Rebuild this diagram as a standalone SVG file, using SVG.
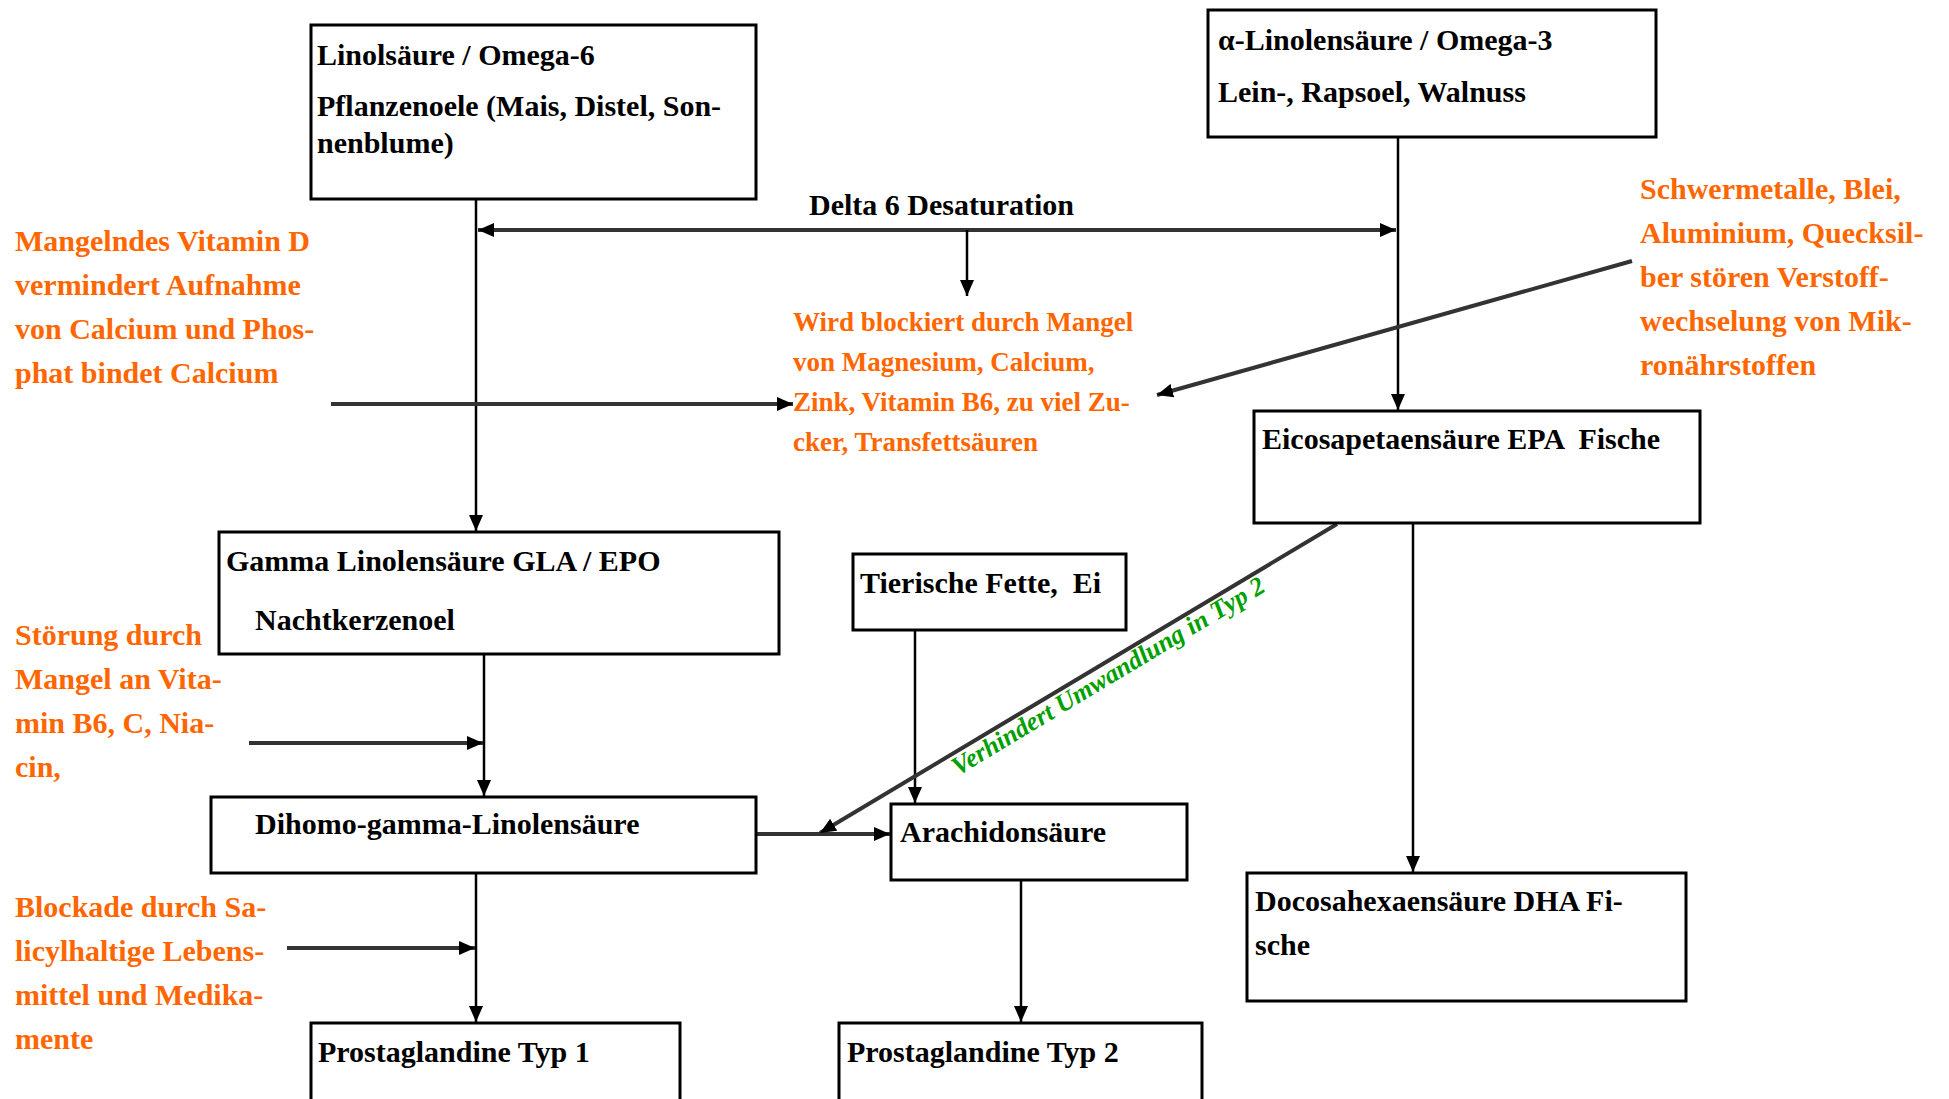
<svg xmlns="http://www.w3.org/2000/svg" width="1949" height="1099" viewBox="0 0 1949 1099">
<style>
.box{fill:#fff;stroke:#000;stroke-width:3}
.t{font-family:"Liberation Serif","Times New Roman",serif;font-size:30px;font-weight:bold;fill:#000}
.o{font-family:"Liberation Serif","Times New Roman",serif;font-size:30px;font-weight:bold;fill:#ff6600}
.om{font-size:27px}
.g{font-family:"Liberation Serif","Times New Roman",serif;font-size:26px;font-weight:bold;font-style:italic;fill:#00a000}
.c{fill:none;stroke:#000;stroke-width:2.5}
.h{fill:none;stroke:#333;stroke-width:4}
</style>
<defs>
<marker id="a" markerUnits="userSpaceOnUse" markerWidth="18" markerHeight="14" refX="16" refY="7" orient="auto-start-reverse">
<path d="M0,0 L16,7 L0,14 z" fill="#000"/>
</marker>
</defs>
<rect width="1949" height="1099" fill="#fff"/>
<g id="connectors">
<line class="c" x1="476" y1="192" x2="476" y2="531" marker-end="url(#a)"/>
<line class="h" x1="478" y1="230" x2="1396" y2="230" marker-start="url(#a)" marker-end="url(#a)"/>
<line class="c" x1="967" y1="230" x2="967" y2="296" marker-end="url(#a)"/>
<line class="c" x1="1398" y1="137" x2="1398" y2="410" marker-end="url(#a)"/>
<line class="h" x1="331" y1="404" x2="793" y2="404" marker-end="url(#a)"/>
<line class="h" x1="1632" y1="261" x2="1157" y2="395" marker-end="url(#a)"/>
<line class="c" x1="484" y1="654" x2="484" y2="796" marker-end="url(#a)"/>
<line class="h" x1="249" y1="743" x2="483" y2="743" marker-end="url(#a)"/>
<line class="h" x1="756" y1="834" x2="890" y2="834" marker-end="url(#a)"/>
<line class="c" x1="915" y1="630" x2="915" y2="803" marker-end="url(#a)"/>
<line class="h" x1="1337" y1="524" x2="820" y2="833" marker-end="url(#a)"/>
<line class="c" x1="1413" y1="523" x2="1413" y2="872" marker-end="url(#a)"/>
<line class="c" x1="476" y1="873" x2="476" y2="1022" marker-end="url(#a)"/>
<line class="h" x1="287" y1="948" x2="475" y2="948" marker-end="url(#a)"/>
<line class="c" x1="1021" y1="880" x2="1021" y2="1022" marker-end="url(#a)"/>
</g>
<g id="linolsaeure">
<rect class="box" x="311" y="25" width="445" height="174"/>
<text class="t" x="317" y="65">Linolsäure / Omega-6</text>
<text class="t" x="317" y="116">Pflanzenoele (Mais, Distel, Son-</text>
<text class="t" x="317" y="153">nenblume)</text>
</g>
<g id="alpha-linolensaeure">
<rect class="box" x="1208" y="10" width="448" height="127"/>
<text class="t" x="1218" y="50">α-Linolensäure / Omega-3</text>
<text class="t" x="1218" y="102">Lein-, Rapsoel, Walnuss</text>
</g>
<g id="delta6">
<text class="t" x="809" y="215">Delta 6 Desaturation</text>
</g>
<g id="blockiert">
<text class="o om" x="793" y="331">Wird blockiert durch Mangel</text>
<text class="o om" x="793" y="371">von Magnesium, Calcium,</text>
<text class="o om" x="793" y="411">Zink, Vitamin B6, zu viel Zu-</text>
<text class="o om" x="793" y="451">cker, Transfettsäuren</text>
</g>
<g id="vitamin-d">
<text class="o" x="15" y="251">Mangelndes Vitamin D</text>
<text class="o" x="15" y="295">vermindert Aufnahme</text>
<text class="o" x="15" y="339">von Calcium und Phos-</text>
<text class="o" x="15" y="383">phat bindet Calcium</text>
</g>
<g id="schwermetalle">
<text class="o" x="1640" y="199">Schwermetalle, Blei,</text>
<text class="o" x="1640" y="243">Aluminium, Quecksil-</text>
<text class="o" x="1640" y="287">ber stören Verstoff-</text>
<text class="o" x="1640" y="331">wechselung von Mik-</text>
<text class="o" x="1640" y="375">ronährstoffen</text>
</g>
<g id="epa">
<rect class="box" x="1254" y="411" width="446" height="112"/>
<text class="t" x="1262" y="449" xml:space="preserve">Eicosapetaensäure EPA  Fische</text>
</g>
<g id="gla">
<rect class="box" x="219" y="532" width="560" height="122"/>
<text class="t" x="226" y="571">Gamma Linolensäure GLA / EPO</text>
<text class="t" x="255" y="630">Nachtkerzenoel</text>
</g>
<g id="tierische-fette">
<rect class="box" x="853" y="554" width="273" height="76"/>
<text class="t" x="860" y="593" xml:space="preserve">Tierische Fette,  Ei</text>
</g>
<g id="stoerung">
<text class="o" x="15" y="645">Störung durch</text>
<text class="o" x="15" y="689">Mangel an Vita-</text>
<text class="o" x="15" y="733">min B6, C, Nia-</text>
<text class="o" x="15" y="777">cin,</text>
</g>
<g id="dihomo">
<rect class="box" x="211" y="797" width="545" height="76"/>
<text class="t" x="255" y="834">Dihomo-gamma-Linolensäure</text>
</g>
<g id="arachidonsaeure">
<rect class="box" x="891" y="804" width="296" height="76"/>
<text class="t" x="900" y="842">Arachidonsäure</text>
</g>
<g id="verhindert">
<text class="g" transform="translate(958,776) rotate(-31)">Verhindert Umwandlung in Typ 2</text>
</g>
<g id="dha">
<rect class="box" x="1247" y="873" width="439" height="128"/>
<text class="t" x="1255" y="911">Docosahexaensäure DHA Fi-</text>
<text class="t" x="1255" y="955">sche</text>
</g>
<g id="blockade">
<text class="o" x="15" y="917">Blockade durch Sa-</text>
<text class="o" x="15" y="961">licylhaltige Lebens-</text>
<text class="o" x="15" y="1005">mittel und Medika-</text>
<text class="o" x="15" y="1049">mente</text>
</g>
<g id="pg1">
<rect class="box" x="311" y="1023" width="369" height="90"/>
<text class="t" x="318" y="1062">Prostaglandine Typ 1</text>
</g>
<g id="pg2">
<rect class="box" x="839" y="1023" width="363" height="90"/>
<text class="t" x="847" y="1062">Prostaglandine Typ 2</text>
</g>
</svg>
